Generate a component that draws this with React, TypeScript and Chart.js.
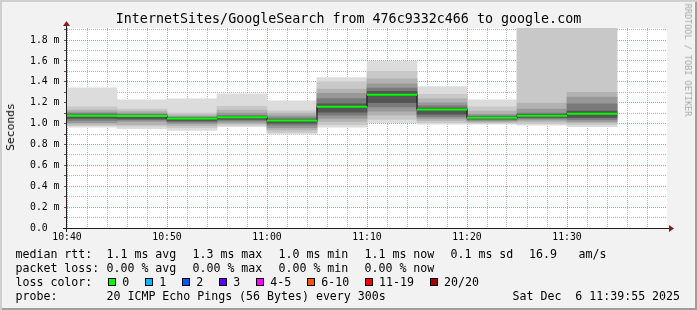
import React, { useEffect, useRef } from 'react';
import { Chart, registerables } from 'chart.js';

Chart.register(...registerables);

// ---- data ----
// 5-minute intervals, minutes after 10:40
const intervalStart = [0, 5, 10, 15, 20, 25, 30, 35, 40, 45, 50];
const intervalLength = 5;
const axisSpanMinutes = 60;
const xTickLabels = ['10:40', '10:50', '11:00', '11:10', '11:20', '11:30'];
const yTickLabels = ['0.0', '0.2 m', '0.4 m', '0.6 m', '0.8 m', '1.0 m', '1.2 m', '1.4 m', '1.6 m', '1.8 m'];
const yMax = 1.916;

// median rtt (ms)
const medianRtt = [1.076, 1.072, 1.05, 1.06, 1.03, 1.162, 1.277, 1.136, 1.056, 1.076, 1.095];

// smoke layers, outermost (1) to innermost (6): low / high ping bounds (ms)
const smokeLow1 = [0.967, 0.951, 0.935, 0.97, 0.9, 0.967, 1.01, 0.995, 0.995, 0.985, 0.97];
const smokeHigh1 = [1.344, 1.229, 1.238, 1.286, 1.219, 1.44, 1.596, 1.356, 1.228, 2.5, 2.5];
const smokeLow2 = [0.98, 0.975, 0.96, 0.985, 0.915, 0.99, 1.04, 1.01, 1.005, 1.0, 0.99];
const smokeHigh2 = [1.16, 1.14, 1.1, 1.165, 1.123, 1.4, 1.5, 1.28, 1.16, 2.2, 2.2];
const smokeLow3 = [0.995, 0.99, 0.98, 1.0, 0.94, 1.02, 1.08, 1.03, 1.015, 1.02, 1.01];
const smokeHigh3 = [1.13, 1.12, 1.085, 1.13, 1.1, 1.33, 1.43, 1.24, 1.12, 1.197, 1.3];
const smokeLow4 = [1.01, 1.02, 1.0, 1.015, 0.96, 1.05, 1.12, 1.05, 1.025, 1.035, 1.02];
const smokeHigh4 = [1.11, 1.1, 1.07, 1.1, 1.075, 1.29, 1.38, 1.2, 1.09, 1.14, 1.254];
const smokeLow5 = [1.03, 1.035, 1.015, 1.03, 0.985, 1.08, 1.16, 1.07, 1.035, 1.05, 1.04];
const smokeHigh5 = [1.095, 1.088, 1.06, 1.08, 1.055, 1.24, 1.34, 1.17, 1.075, 1.1, 1.19];
const smokeLow6 = [1.05, 1.045, 1.025, 1.04, 1.005, 1.11, 1.2, 1.09, 1.045, 1.06, 1.06];
const smokeHigh6 = [1.085, 1.078, 1.052, 1.065, 1.04, 1.19, 1.31, 1.15, 1.065, 1.088, 1.12];
const smokeColors = ['#dcdcdc', '#c8c8c8', '#b2b2b2', '#989898', '#7a7a7a', '#555555'];

const lossLabels = ['0', '1', '2', '3', '4-5', '6-10', '11-19', '20/20'];
const lossColors = ['#00ff00', '#00b8ff', '#0059ff', '#5e00ff', '#ff00ff', '#ff5500', '#ff0000', '#a10000'];

const statsValues = ['1.1 ms avg', '1.3 ms max', '1.0 ms min', '1.1 ms now', '0.1 ms sd'];
const lossValues = ['0.00 % avg', '0.00 % max', '0.00 % min', '0.00 % now'];

const MONO = '"DejaVu Sans Mono", monospace';
const minorGrid = 'rgba(143,143,143,0.65)';
const majorGrid = 'rgba(222,79,79,0.65)';

const rrdFrame = {
  id: 'rrdFrame',
  beforeDraw(chart: any) {
    const { ctx, chartArea: a } = chart;
    ctx.save();
    ctx.fillStyle = '#ffffff';
    ctx.fillRect(a.left, a.top, a.right - a.left, a.bottom - a.top);
    ctx.restore();
  },
  afterDraw(chart: any) {
    const { ctx, chartArea: a } = chart;
    ctx.save();
    ctx.strokeStyle = '#1f1f1f';
    ctx.lineWidth = 1;
    ctx.beginPath();
    ctx.moveTo(a.left - 4, a.bottom + 0.5);
    ctx.lineTo(a.right + 4, a.bottom + 0.5);
    ctx.moveTo(a.left - 0.5, a.bottom + 4);
    ctx.lineTo(a.left - 0.5, a.top - 4);
    ctx.stroke();
    ctx.fillStyle = '#801f1f';
    ctx.beginPath();
    ctx.moveTo(a.right + 2, a.bottom - 3);
    ctx.lineTo(a.right + 2, a.bottom + 4);
    ctx.lineTo(a.right + 7, a.bottom + 0.5);
    ctx.closePath();
    ctx.fill();
    ctx.beginPath();
    ctx.moveTo(a.left - 4, a.top - 2);
    ctx.lineTo(a.left + 3, a.top - 2);
    ctx.lineTo(a.left - 0.5, a.top - 7);
    ctx.closePath();
    ctx.fill();
    ctx.restore();
  },
};

function tickValue(c: any): number | null {
  if (!c || !c.tick || typeof c.tick.value !== 'number') return null;
  return c.tick.value;
}

export default function App() {
  const ref = useRef<HTMLCanvasElement>(null);

  useEffect(() => {
    if (!ref.current) return;
    const lows = [smokeLow1, smokeLow2, smokeLow3, smokeLow4, smokeLow5, smokeLow6];
    const highs = [smokeHigh1, smokeHigh2, smokeHigh3, smokeHigh4, smokeHigh5, smokeHigh6];
    const smokeSets = lows.map((lo, k) => ({
      type: 'bar' as const,
      label: 'smoke ' + (k + 1),
      xAxisID: 'xb',
      yAxisID: 'y',
      data: intervalStart.map((s, i) => ({ x: s + intervalLength / 2, y: [lo[i], highs[k][i]] })),
      backgroundColor: smokeColors[k],
      borderWidth: 0,
      grouped: false,
      barPercentage: 1,
      categoryPercentage: 1,
      order: 20 - k,
      clip: 0,
    }));
    const last = intervalStart.length - 1;
    const stepData = intervalStart
      .map((s, i) => ({ x: s, y: medianRtt[i] }))
      .concat([{ x: intervalStart[last] + intervalLength, y: medianRtt[last] }]);
    const greenData: any[] = [];
    intervalStart.forEach((s, i) => {
      greenData.push({ x: s, y: medianRtt[i] });
      greenData.push({ x: s + intervalLength, y: medianRtt[i] });
      greenData.push({ x: s + intervalLength, y: null });
    });

    const chart = new Chart(ref.current, {
      type: 'bar',
      data: {
        datasets: [
          ...smokeSets,
          {
            type: 'line',
            label: 'median step',
            xAxisID: 'x',
            yAxisID: 'y',
            data: stepData,
            stepped: true,
            borderColor: '#111111',
            borderWidth: 1,
            pointRadius: 0,
            fill: false,
            order: 2,
            clip: 0,
          } as any,
          {
            type: 'line',
            label: 'median rtt',
            xAxisID: 'x',
            yAxisID: 'y',
            data: greenData,
            borderColor: '#00ff00',
            borderWidth: 2,
            pointRadius: 0,
            fill: false,
            spanGaps: false,
            order: 1,
            clip: 0,
          } as any,
        ],
      },
      options: {
        responsive: false,
        animation: false,
        events: [],
        layout: { padding: { left: 30, top: 28, right: 30, bottom: 0 } },
        plugins: { legend: { display: false }, tooltip: { enabled: false }, title: { display: false } },
        scales: {
          x: {
            type: 'linear',
            position: 'bottom',
            min: 0,
            max: axisSpanMinutes,
            offset: false,
            z: 1,
            ticks: {
              stepSize: 2,
              autoSkip: false,
              maxRotation: 0,
              minRotation: 0,
              padding: 4,
              color: '#000',
              font: { family: MONO, size: 9.8 },
              callback: (v: any) => {
                const n = Math.round(Number(v));
                return n % 10 === 0 ? xTickLabels[n / 10] ?? '' : '';
              },
            },
            grid: {
              offset: false,
              color: (c: any) => {
                const t = tickValue(c);
                if (t === null) return minorGrid;
                const n = Math.round(t);
                if (n >= axisSpanMinutes) return 'rgba(0,0,0,0)';
                return n % 10 === 0 ? majorGrid : minorGrid;
              },
              drawTicks: false,
              lineWidth: 1,
            },
            border: { display: false, dash: [1, 1] },
            afterFit: (s: any) => {
              s.height = 82;
            },
          },
          xb: {
            type: 'linear',
            display: false,
            offset: false,
            grid: { offset: false },
            min: 0,
            max: axisSpanMinutes,
            ticks: { stepSize: intervalLength },
          },
          y: {
            type: 'linear',
            min: 0,
            max: yMax,
            stacked: false,
            z: 1,
            ticks: {
              stepSize: 0.1,
              includeBounds: false,
              autoSkip: false,
              crossAlign: 'far',
              padding: 4,
              color: '#000',
              font: { family: MONO, size: 9.8 },
              callback: (v: any) => {
                const n = Math.round(Number(v) * 10);
                return n % 2 === 0 ? yTickLabels[n / 2] ?? '' : '';
              },
            },
            grid: {
              color: (c: any) => {
                const t = tickValue(c);
                if (t === null) return minorGrid;
                return Math.round(t * 10) % 2 === 0 ? majorGrid : minorGrid;
              },
              tickLength: 3,
              tickColor: '#555555',
              lineWidth: 1,
            },
            border: { display: false, dash: [1, 1] },
            afterFit: (s: any) => {
              s.width = 37;
            },
          },
        },
      } as any,
      plugins: [rrdFrame],
    });
    return () => chart.destroy();
  }, []);

  const legendFont: React.CSSProperties = {
    position: 'absolute',
    fontFamily: MONO,
    fontSize: '11.6px',
    lineHeight: '14px',
    whiteSpace: 'pre',
    color: '#000',
  };
  const statX = [106.5, 192.5, 278.5, 364.5, 450.5];

  return (
    <div
      style={{
        position: 'absolute',
        left: 0,
        top: 0,
        width: 697,
        height: 310,
        background: '#f2f2f2',
        boxShadow: 'inset 2px 2px 0 #cfcfcf, inset -2px -2px 0 #9e9e9e',
        overflow: 'hidden',
      }}
    >
      <canvas ref={ref} width={697} height={310} style={{ position: 'absolute', left: 0, top: 0, display: 'block' }} />
      <div
        style={{
          position: 'absolute',
          left: 0,
          top: 11,
          width: 697,
          textAlign: 'center',
          fontFamily: MONO,
          fontSize: '13.33px',
          lineHeight: '16px',
          whiteSpace: 'pre',
          color: '#000',
        }}
      >
        InternetSites/GoogleSearch from 476c9332c466 to google.com
      </div>
      <div
        style={{
          position: 'absolute',
          left: 11,
          top: 127,
          transform: 'translate(-50%, -50%) rotate(-90deg)',
          fontFamily: MONO,
          fontSize: '11.3px',
          lineHeight: '14px',
          whiteSpace: 'pre',
          color: '#000',
        }}
      >
        Seconds
      </div>
      <div
        style={{
          position: 'absolute',
          left: 688,
          top: 60,
          transform: 'translate(-50%, -50%) rotate(90deg)',
          fontFamily: MONO,
          fontSize: '8.5px',
          lineHeight: '10px',
          whiteSpace: 'pre',
          color: '#a8a8a8',
        }}
      >
        RRDTOOL / TOBI OETIKER
      </div>

      <span style={{ ...legendFont, left: 15.5, top: 247 }}>median rtt:</span>
      {statsValues.map((t, i) => (
        <span key={'s' + i} style={{ ...legendFont, left: statX[i], top: 247 }}>
          {t}
        </span>
      ))}
      <span style={{ ...legendFont, left: 529, top: 247 }}>16.9</span>
      <span style={{ ...legendFont, left: 578.5, top: 247 }}>am/s</span>

      <span style={{ ...legendFont, left: 15.5, top: 261 }}>packet loss:</span>
      {lossValues.map((t, i) => (
        <span key={'l' + i} style={{ ...legendFont, left: statX[i], top: 261 }}>
          {t}
        </span>
      ))}

      <span style={{ ...legendFont, left: 15.5, top: 275 }}>loss color:</span>
      <div style={{ position: 'absolute', left: 108.3, top: 275, height: 14, display: 'flex', alignItems: 'center' }}>
        {lossLabels.map((l, i) => (
          <div key={'c' + i} style={{ display: 'flex', alignItems: 'center', marginRight: 16 }}>
            <span
              style={{
                display: 'inline-block',
                width: 6,
                height: 6,
                border: '1px solid #000',
                background: lossColors[i],
                marginRight: 6,
              }}
            />
            <span style={{ fontFamily: MONO, fontSize: '11.6px', lineHeight: '14px', whiteSpace: 'pre' }}>{l}</span>
          </div>
        ))}
      </div>

      <span style={{ ...legendFont, left: 15.5, top: 289 }}>probe:</span>
      <span style={{ ...legendFont, left: 106.5, top: 289 }}>20 ICMP Echo Pings (56 Bytes) every 300s</span>
      <span style={{ ...legendFont, left: 512.5, top: 289 }}>Sat Dec  6 11:39:55 2025</span>
    </div>
  );
}
